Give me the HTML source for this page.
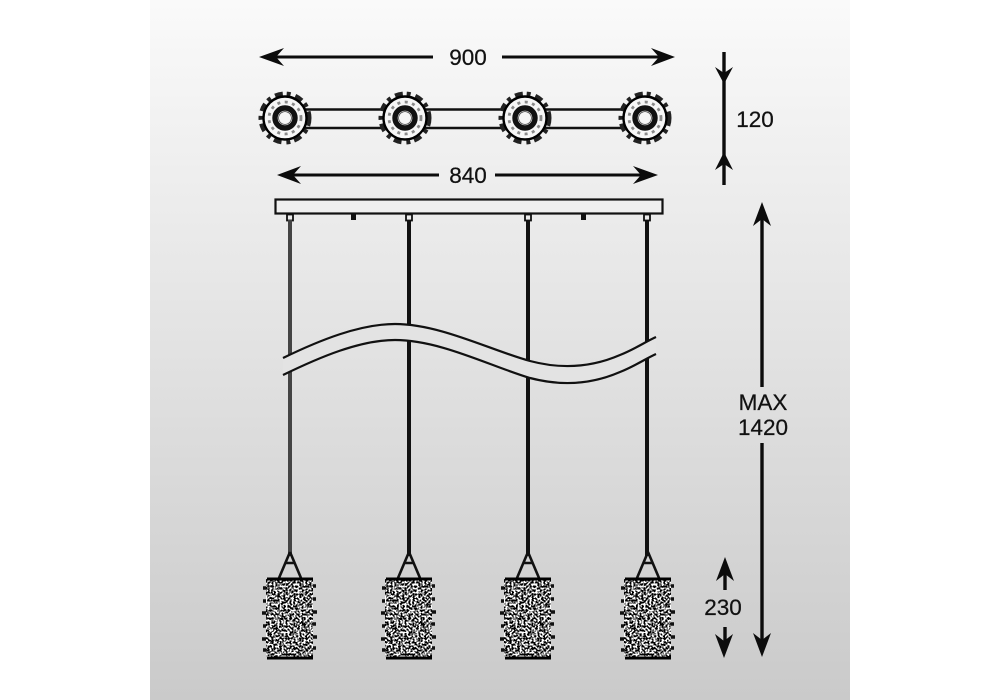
<!DOCTYPE html>
<html><head><meta charset="utf-8"><style>
html,body{margin:0;padding:0;background:#fff;width:1000px;height:700px;overflow:hidden}
svg{display:block}
text{font-family:"Liberation Sans",sans-serif;font-size:22.5px;fill:#111;stroke:#111;stroke-width:.25;text-anchor:middle}
</style></head><body>
<svg width="1000" height="700" viewBox="0 0 1000 700" xmlns="http://www.w3.org/2000/svg">
<defs>
<linearGradient id="bg" x1="0" y1="0" x2="0" y2="1"><stop offset="0" stop-color="#fafafa"/><stop offset="1" stop-color="#cacaca"/></linearGradient>
<filter id="sp" x="0" y="0" width="100%" height="100%" color-interpolation-filters="sRGB">
<feTurbulence type="fractalNoise" baseFrequency="0.5" numOctaves="2" seed="11"/>
<feColorMatrix type="matrix" values="12 0 0 0 -5.6  12 0 0 0 -5.6  12 0 0 0 -5.6  0 0 0 0 1"/>
</filter>
<g id="ring">
<circle r="24.5" fill="none" stroke="#222" stroke-width="4" stroke-dasharray="8 4 4 5"/>
<circle r="21.5" fill="#f6f6f6" stroke="#000" stroke-width="2.4"/>
<circle r="16" fill="none" stroke="#8a8a8a" stroke-width="2.8" stroke-dasharray="3 4.5"/>
<circle r="10" fill="#fff" stroke="#111" stroke-width="5.4"/>
<circle r="6.4" fill="#f6f6f6" stroke="#333" stroke-width=".7"/>
</g>
<g id="lamp">
<path d="M0 552L-11 578M0 552L11 578M-5 563H5" fill="none" stroke="#111" stroke-width="2.6"/>
<path d="M-27 588h7M-27 601h7M-28 613h7M-27 626h7M-28 639h7M-27 650h7M19 586h7M19 599h7M19 612h8M19 624h7M19 637h8M19 648h7" stroke="#111" stroke-width="3.6" fill="none"/>
<rect x="-24" y="579" width="47" height="78" fill="#888" filter="url(#sp)"/>
<path d="M-23 579H23M-23 658H23" stroke="#000" stroke-width="3"/>
</g>
</defs>
<rect x="150" y="0" width="700" height="700" fill="url(#bg)"/>

<path d="M305 109.5H625M305 128H625" stroke="#111" stroke-width="2.4"/>
<use href="#ring" x="285" y="118"/><use href="#ring" x="405" y="118"/><use href="#ring" x="525" y="118"/><use href="#ring" x="645" y="118"/>

<g stroke="#0c0c0c" stroke-width="3" fill="none">
<path d="M265 57H433M502 57H669M283 175H439M495 175H652"/>
<path d="M724 52V185M762 210V387M762 443V648M725 565V590M725 627V650" stroke-width="3.4"/>
</g>
<g fill="#0c0c0c">
<path d="M259 57L284 48L276 57L284 66Z"/>
<path d="M675 57L651 48L659 57L651 66Z"/>
<path d="M277 175L301 166L293 175L301 184Z"/>
<path d="M658 175L633 166L641 175L633 184Z"/>
<path d="M724 84L715 67L724 73L733 67Z"/>
<path d="M724 152L715 170L724 164L733 170Z"/>
<path d="M762 202L753 226L762 219L771 226Z"/>
<path d="M762 657L753 633L762 640L771 633Z"/>
<path d="M725 557L716 581L725 574L734 581Z"/>
<path d="M724 658L715 634L724 641L733 634Z"/>
</g>

<rect x="275.5" y="199.5" width="387" height="14" fill="#f0f0f0" stroke="#111" stroke-width="2.2"/>
<g fill="#111">
<rect x="351" y="214" width="5" height="6"/><rect x="581" y="214" width="5" height="6"/>
</g>
<g fill="#ededed" stroke="#111" stroke-width="1.8">
<rect x="287" y="214.5" width="6" height="6"/><rect x="406" y="214.5" width="6" height="6"/><rect x="525" y="214.5" width="6" height="6"/><rect x="644" y="214.5" width="6" height="6"/>
</g>
<path d="M290 220V556" stroke="#444" stroke-width="4"/>
<path d="M409 220V556M528 220V556M647 220V556" stroke="#111" stroke-width="4"/>

<path d="M283 358C320 340 360 324 395 324C440 324 490 350 530 361C560 369 590 368 620 355C635 349 645 342 656 337L656 354C645 359 635 366 620 372C590 385 560 386 530 378C490 366 440 340 395 340C360 340 320 357 283 375Z" fill="#e3e3e3"/>
<path d="M283 358C320 340 360 324 395 324C440 324 490 350 530 361C560 369 590 368 620 355C635 349 645 342 656 337" fill="none" stroke="#111" stroke-width="2.2"/>
<path d="M283 375C320 357 360 340 395 340C440 340 490 366 530 378C560 386 590 385 620 372C635 366 645 359 656 354" fill="none" stroke="#111" stroke-width="2.2"/>

<use href="#lamp" x="290"/><use href="#lamp" x="409"/><use href="#lamp" x="528"/><use href="#lamp" x="648"/>

<text x="468" y="65">900</text>
<text x="468" y="183">840</text>
<text x="755" y="127">120</text>
<text x="763" y="410">MAX</text>
<text x="763" y="435">1420</text>
<text x="723" y="615">230</text>
</svg>
</body></html>
